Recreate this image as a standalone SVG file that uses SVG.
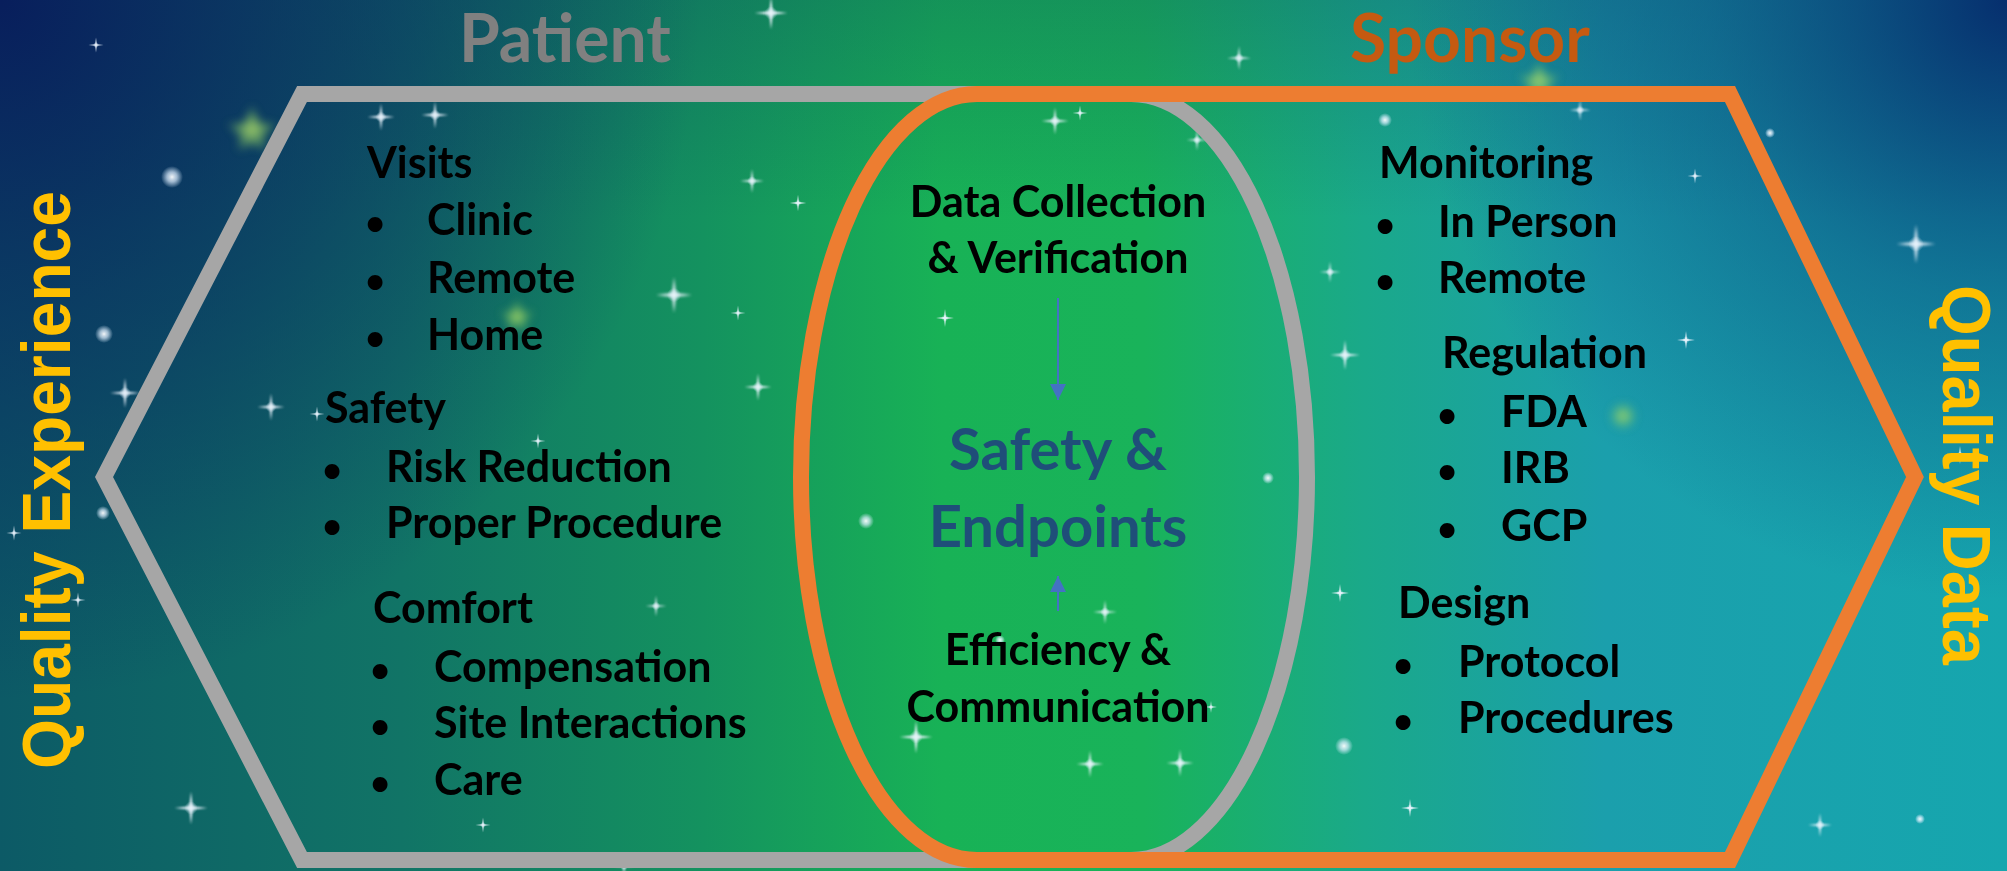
<svg xmlns="http://www.w3.org/2000/svg" xmlns:xlink="http://www.w3.org/1999/xlink" width="2007" height="871" viewBox="0 0 2007 871">
  <defs>
    <!-- night-sky backdrop -->
    <linearGradient id="skyBase" x1="0" y1="0" x2="1" y2="0">
      <stop offset="0" stop-color="#0c5a66"/>
      <stop offset="0.2" stop-color="#117466"/>
      <stop offset="0.35" stop-color="#14925f"/>
      <stop offset="0.47" stop-color="#18b256"/>
      <stop offset="0.57" stop-color="#19b35a"/>
      <stop offset="0.68" stop-color="#1aa98a"/>
      <stop offset="0.8" stop-color="#1b9fac"/>
      <stop offset="1" stop-color="#16a6ae"/>
    </linearGradient>
    <radialGradient id="skyTopLeft" gradientUnits="userSpaceOnUse" cx="0" cy="0" r="700">
      <stop offset="0" stop-color="#081e5c" stop-opacity="1"/>
      <stop offset="0.5" stop-color="#0a2c62" stop-opacity="0.6"/>
      <stop offset="1" stop-color="#0a2c62" stop-opacity="0"/>
    </radialGradient>
    <radialGradient id="skyTopRight" gradientUnits="userSpaceOnUse" cx="2007" cy="0" r="600">
      <stop offset="0" stop-color="#062f6e" stop-opacity="1"/>
      <stop offset="0.5" stop-color="#0b4a80" stop-opacity="0.5"/>
      <stop offset="1" stop-color="#0b4a80" stop-opacity="0"/>
    </radialGradient>
    <linearGradient id="skyTop" x1="0" y1="0" x2="0" y2="1">
      <stop offset="0" stop-color="#0a3a60" stop-opacity="0.25"/>
      <stop offset="0.25" stop-color="#0a3a60" stop-opacity="0"/>
    </linearGradient>
    <radialGradient id="glowDot">
      <stop offset="0" stop-color="#ffffff" stop-opacity="0.95"/>
      <stop offset="0.45" stop-color="#dfefff" stop-opacity="0.7"/>
      <stop offset="1" stop-color="#dfefff" stop-opacity="0"/>
    </radialGradient>
    <radialGradient id="greenGlow">
      <stop offset="0" stop-color="#b6e06a" stop-opacity="0.9"/>
      <stop offset="0.5" stop-color="#8fd060" stop-opacity="0.5"/>
      <stop offset="1" stop-color="#8fd060" stop-opacity="0"/>
    </radialGradient>
    <filter id="soft" x="-1" y="-1" width="3" height="3">
      <feGaussianBlur stdDeviation="1.2"/>
    </filter>
    <filter id="haze" x="-1" y="-1" width="3" height="3">
      <feGaussianBlur stdDeviation="4"/>
    </filter>
    <!-- four-point sparkle -->
    <symbol id="sparkle" viewBox="-16 -16 32 32" overflow="visible">
      <circle r="6" fill="url(#glowDot)" opacity="0.7"/>
      <path d="M0,-15 L1.6,-1.6 L15,0 L1.6,1.6 L0,15 L-1.6,1.6 L-15,0 L-1.6,-1.6 Z" fill="#eef6ff" opacity="0.9" filter="url(#soft)"/>
    </symbol>
    <path id="blurStar" d="M0,-22 L6,-7 L21,-7 L9,3 L13,18 L0,9 L-13,18 L-9,3 L-21,-7 L-6,-7 Z"/>
    <marker id="arrowHead" viewBox="0 0 10 10" refX="10" refY="5" markerWidth="8" markerHeight="8" markerUnits="strokeWidth" orient="auto">
      <path d="M0,0 L10,5 L0,10 Z" fill="#4472c4"/>
    </marker>
    <style>
      .item { font-family: Lato, "Open Sans", "Liberation Sans", sans-serif; font-weight: 700; font-size: 43px; fill: #000000; }
      .bullet { text-anchor: middle; font-size: 34px; }
      .mid { text-anchor: middle; }
      .hub { font-family: Lato, "Open Sans", "Liberation Sans", sans-serif; font-weight: 700; font-size: 58px; fill: #1f4e79; text-anchor: middle; }
      .title { font-family: Lato, "Open Sans", "Liberation Sans", sans-serif; font-weight: 700; font-size: 66px; }
      .side { font-family: "Liberation Sans", Arial, sans-serif; font-weight: 700; font-size: 69px; fill: #ffc000; }
      .region { fill: none; stroke-width: 16; stroke-linejoin: miter; stroke-miterlimit: 10; }
      .link { stroke: #4472c4; stroke-width: 2; fill: none; }
    </style>
  </defs>

  <!-- background -->
  <g id="background">
    <rect width="2007" height="871" fill="url(#skyBase)"/>
    <rect width="2007" height="871" fill="url(#skyTop)"/>
    <rect width="2007" height="871" fill="url(#skyTopLeft)"/>
    <rect width="2007" height="871" fill="url(#skyTopRight)"/>

    <!-- hazy green stars -->
    <g fill="url(#greenGlow)" filter="url(#haze)">
      <use href="#blurStar" transform="translate(252,132) scale(1.3)"/>
      <use href="#blurStar" transform="translate(517,318) scale(0.9)"/>
      <use href="#blurStar" transform="translate(1539,83) scale(1.1)"/>
      <circle cx="1623" cy="416" r="14"/>
    </g>

    <!-- glowing dots -->
    <g fill="url(#glowDot)">
      <circle cx="172" cy="177" r="11"/>
      <circle cx="104" cy="334" r="9"/>
      <circle cx="103" cy="513" r="7"/>
      <circle cx="866" cy="521" r="8"/>
      <circle cx="1344" cy="746" r="9"/>
      <circle cx="1385" cy="120" r="7"/>
      <circle cx="1770" cy="133" r="5"/>
      <circle cx="1268" cy="478" r="6"/>
      <circle cx="1000" cy="640" r="5"/>
      <circle cx="1920" cy="819" r="5"/>
    </g>

    <!-- sparkles -->
    <g>
      <use href="#sparkle" x="-16" y="-16" width="32" height="32" transform="translate(771,13) scale(1.1)"/>
      <use href="#sparkle" x="-16" y="-16" width="32" height="32" transform="translate(96,45) scale(0.5)"/>
      <use href="#sparkle" x="-16" y="-16" width="32" height="32" transform="translate(381,117) scale(0.9)"/>
      <use href="#sparkle" x="-16" y="-16" width="32" height="32" transform="translate(435,115) scale(0.9)"/>
      <use href="#sparkle" x="-16" y="-16" width="32" height="32" transform="translate(1239,58) scale(0.8)"/>
      <use href="#sparkle" x="-16" y="-16" width="32" height="32" transform="translate(1055,121) scale(0.9)"/>
      <use href="#sparkle" x="-16" y="-16" width="32" height="32" transform="translate(752,181) scale(0.8)"/>
      <use href="#sparkle" x="-16" y="-16" width="32" height="32" transform="translate(798,203) scale(0.55)"/>
      <use href="#sparkle" x="-16" y="-16" width="32" height="32" transform="translate(674,295) scale(1.2)"/>
      <use href="#sparkle" x="-16" y="-16" width="32" height="32" transform="translate(738,313) scale(0.5)"/>
      <use href="#sparkle" x="-16" y="-16" width="32" height="32" transform="translate(125,393) scale(1.0)"/>
      <use href="#sparkle" x="-16" y="-16" width="32" height="32" transform="translate(271,407) scale(0.9)"/>
      <use href="#sparkle" x="-16" y="-16" width="32" height="32" transform="translate(317,414) scale(0.5)"/>
      <use href="#sparkle" x="-16" y="-16" width="32" height="32" transform="translate(758,387) scale(0.9)"/>
      <use href="#sparkle" x="-16" y="-16" width="32" height="32" transform="translate(945,318) scale(0.6)"/>
      <use href="#sparkle" x="-16" y="-16" width="32" height="32" transform="translate(1080,113) scale(0.5)"/>
      <use href="#sparkle" x="-16" y="-16" width="32" height="32" transform="translate(1197,140) scale(0.7)"/>
      <use href="#sparkle" x="-16" y="-16" width="32" height="32" transform="translate(1330,272) scale(0.7)"/>
      <use href="#sparkle" x="-16" y="-16" width="32" height="32" transform="translate(1345,355) scale(1.0)"/>
      <use href="#sparkle" x="-16" y="-16" width="32" height="32" transform="translate(1580,110) scale(0.7)"/>
      <use href="#sparkle" x="-16" y="-16" width="32" height="32" transform="translate(1695,176) scale(0.5)"/>
      <use href="#sparkle" x="-16" y="-16" width="32" height="32" transform="translate(1686,340) scale(0.6)"/>
      <use href="#sparkle" x="-16" y="-16" width="32" height="32" transform="translate(1916,244) scale(1.3)"/>
      <use href="#sparkle" x="-16" y="-16" width="32" height="32" transform="translate(1340,593) scale(0.6)"/>
      <use href="#sparkle" x="-16" y="-16" width="32" height="32" transform="translate(1105,612) scale(0.8)"/>
      <use href="#sparkle" x="-16" y="-16" width="32" height="32" transform="translate(1090,764) scale(0.9)"/>
      <use href="#sparkle" x="-16" y="-16" width="32" height="32" transform="translate(916,737) scale(1.1)"/>
      <use href="#sparkle" x="-16" y="-16" width="32" height="32" transform="translate(1180,763) scale(0.9)"/>
      <use href="#sparkle" x="-16" y="-16" width="32" height="32" transform="translate(1211,707) scale(0.4)"/>
      <use href="#sparkle" x="-16" y="-16" width="32" height="32" transform="translate(1410,808) scale(0.6)"/>
      <use href="#sparkle" x="-16" y="-16" width="32" height="32" transform="translate(1820,825) scale(0.8)"/>
      <use href="#sparkle" x="-16" y="-16" width="32" height="32" transform="translate(1960,455) scale(0.6)"/>
      <use href="#sparkle" x="-16" y="-16" width="32" height="32" transform="translate(191,808) scale(1.1)"/>
      <use href="#sparkle" x="-16" y="-16" width="32" height="32" transform="translate(483,825) scale(0.5)"/>
      <use href="#sparkle" x="-16" y="-16" width="32" height="32" transform="translate(656,606) scale(0.7)"/>
      <use href="#sparkle" x="-16" y="-16" width="32" height="32" transform="translate(538,441) scale(0.5)"/>
      <use href="#sparkle" x="-16" y="-16" width="32" height="32" transform="translate(78,600) scale(0.5)"/>
      <use href="#sparkle" x="-16" y="-16" width="32" height="32" transform="translate(14,533) scale(0.5)"/>
      <use href="#sparkle" x="-16" y="-16" width="32" height="32" transform="translate(624,866) scale(0.7)"/>
    </g>
  </g>

  <!-- Patient region: gray pointed frame closing on a curved edge -->
  <g id="patient-region">
    <path class="region" stroke="#a6a6a6" d="M1131,94 L302,94 L104,477 L302,860 L1131,860 A176,383 0 0 0 1131,94 Z"/>
  </g>

  <!-- Sponsor region: orange pointed frame closing on a curved edge -->
  <g id="sponsor-region">
    <path class="region" stroke="#ed7d31" d="M977,94 L1730,94 L1915,477 L1730,860 L977,860 A176,383 0 0 1 977,94 Z"/>
  </g>

  <!-- headings -->
  <g id="patient-title">
    <text class="title" x="459" y="62" fill="#808080">Patient</text>
  </g>
  <g id="sponsor-title">
    <text class="title" x="1350" y="62" fill="#c55a11">Sponsor</text>
  </g>

  <!-- side outcomes -->
  <g id="quality-experience">
    <text class="side" transform="translate(70,769) rotate(-90)" x="0" y="0" textLength="578" lengthAdjust="spacingAndGlyphs">Quality Experience</text>
  </g>
  <g id="quality-data">
    <text class="side" transform="translate(1943,285) rotate(90)" x="0" y="0" textLength="380" lengthAdjust="spacingAndGlyphs">Quality Data</text>
  </g>

  <!-- Patient lists -->
  <g id="visits" class="item">
    <text x="367" y="178">Visits</text>
    <text class="bullet" x="375" y="235">•</text><text x="427" y="235">Clinic</text>
    <text class="bullet" x="375" y="293">•</text><text x="427" y="293">Remote</text>
    <text class="bullet" x="375" y="350">•</text><text x="427" y="350">Home</text>
  </g>
  <g id="safety" class="item">
    <text x="325" y="423">Safety</text>
    <text class="bullet" x="332" y="482">•</text><text x="386" y="482">Risk Reduction</text>
    <text class="bullet" x="332" y="538">•</text><text x="386" y="538">Proper Procedure</text>
  </g>
  <g id="comfort" class="item">
    <text x="373" y="623">Comfort</text>
    <text class="bullet" x="380" y="682">•</text><text x="434" y="682">Compensation</text>
    <text class="bullet" x="380" y="738">•</text><text x="434" y="738">Site Interactions</text>
    <text class="bullet" x="380" y="795">•</text><text x="434" y="795">Care</text>
  </g>

  <!-- Sponsor lists -->
  <g id="monitoring" class="item">
    <text x="1379" y="178">Monitoring</text>
    <text class="bullet" x="1385" y="237">•</text><text x="1438" y="237">In Person</text>
    <text class="bullet" x="1385" y="293">•</text><text x="1438" y="293">Remote</text>
  </g>
  <g id="regulation" class="item">
    <text x="1442" y="368">Regulation</text>
    <text class="bullet" x="1447" y="427">•</text><text x="1501" y="427">FDA</text>
    <text class="bullet" x="1447" y="483">•</text><text x="1501" y="483">IRB</text>
    <text class="bullet" x="1447" y="541">•</text><text x="1501" y="541">GCP</text>
  </g>
  <g id="design" class="item">
    <text x="1398" y="618">Design</text>
    <text class="bullet" x="1403" y="677">•</text><text x="1458" y="677">Protocol</text>
    <text class="bullet" x="1403" y="733">•</text><text x="1458" y="733">Procedures</text>
  </g>

  <!-- shared centre -->
  <g id="data-collection" class="item mid">
    <text x="1058" y="217">Data Collection</text>
    <text x="1058" y="273">&amp; Verification</text>
  </g>
  <g id="safety-endpoints">
    <text class="hub" x="1058" y="470">Safety &amp;</text>
    <text class="hub" x="1058" y="547">Endpoints</text>
  </g>
  <g id="efficiency" class="item mid">
    <text x="1058" y="665">Efficiency &amp;</text>
    <text x="1058" y="722">Communication</text>
  </g>

  <!-- connectors -->
  <g id="connectors">
    <line class="link" x1="1058" y1="298" x2="1058" y2="400" marker-end="url(#arrowHead)"/>
    <line class="link" x1="1058" y1="611" x2="1058" y2="576" marker-end="url(#arrowHead)"/>
  </g>
</svg>
